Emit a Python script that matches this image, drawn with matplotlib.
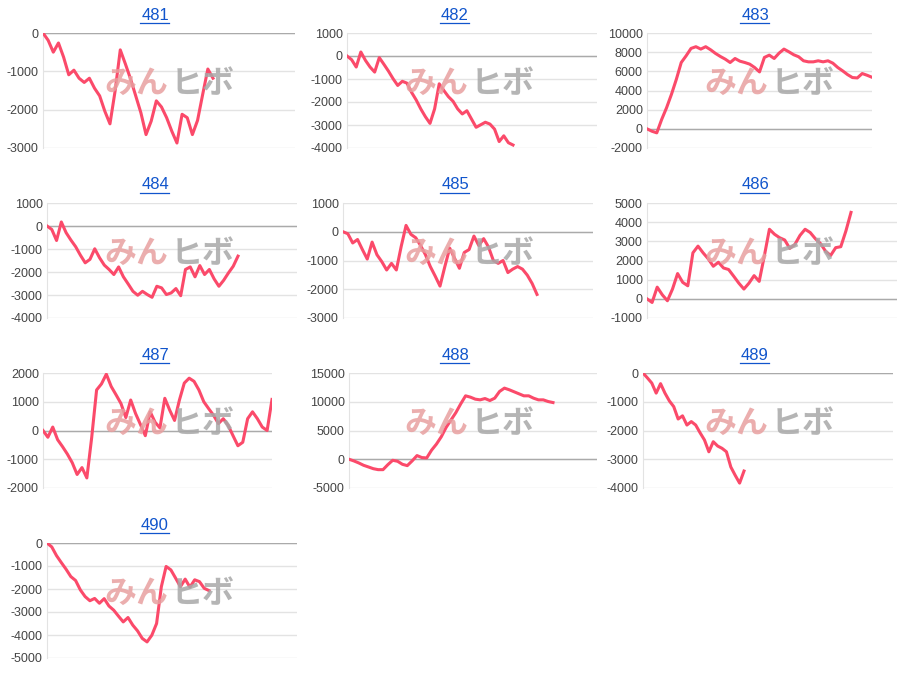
import matplotlib
matplotlib.use("Agg")
import matplotlib.pyplot as plt
from matplotlib.ticker import MultipleLocator

plt.rcParams["axes.unicode_minus"] = False
plt.rcParams["font.family"] = ["Liberation Sans", "DejaVu Sans"]

titles = ["481", "482", "483", "484", "485", "486", "487", "488", "489", "490"]

s481 = [0, -190, -500, -260, -630, -1090, -970, -1180, -1290, -1180, -1440, -1640, -2040, -2370,
        -1510, -440, -810, -1200, -1640, -2080, -2650, -2300, -1770, -1930, -2210, -2560, -2870,
        -2120, -2210, -2650, -2280, -1600, -940, -1180]
s482 = [0, -160, -480, 175, -190, -480, -700, -70, -360, -660, -990, -1280, -1100, -1180, -1580,
        -1910, -2300, -2640, -2930, -2300, -1210, -1500, -1770, -1970, -2300, -2520, -2380, -2740,
        -3100, -2990, -2880, -2960, -3180, -3720, -3470, -3770, -3870]
s483 = [0, -250, -420, 980, 2200, 3600, 5170, 6920, 7620, 8390, 8570, 8320, 8570, 8250, 7870, 7550,
        7270, 6920, 7340, 7060, 6920, 6750, 6400, 5940, 7450, 7690, 7340, 7900, 8320, 8040, 7730,
        7520, 7100, 6990, 6990, 7100, 6990, 7100, 6850, 6400, 6050, 5660, 5350, 5310, 5770, 5590, 5380]
s484 = [0, -150, -630, 175, -290, -610, -900, -1270, -1600, -1450, -990, -1380, -1700, -1890, -2110,
        -1780, -2210, -2520, -2840, -3010, -2840, -2980, -3100, -2620, -2690, -2980, -2910, -2720,
        -3030, -1890, -1780, -2210, -1720, -2110, -1890, -2300, -2620, -2360, -2040, -1750, -1310]
s485 = [0, -70, -390, -270, -620, -950, -360, -800, -1040, -1330, -1100, -1330, -510, 220, -90, -210,
        -480, -800, -1210, -1540, -1890, -1210, -570, -920, -1270, -720, -620, -150, -480, -240, -530,
        -1000, -1100, -1000, -1420, -1300, -1210, -1300, -1510, -1800, -2180]
s486 = [0, -190, 610, 210, -100, 510, 1320, 860, 680, 2400, 2750, 2400, 2090, 1700, 1910, 1610, 1530,
        1180, 820, 510, 820, 1210, 910, 2230, 3630, 3370, 3190, 3070, 2630, 2840, 3310, 3630, 3460,
        3140, 2890, 2490, 2260, 2670, 2720, 3540, 4510]
s487 = [0, -235, 120, -320, -560, -820, -1120, -1530, -1290, -1650, -235, 1410, 1620, 1960, 1530, 1240,
        940, 450, 1060, 590, 210, -180, 650, 290, 90, 1120, 710, 350, 1060, 1650, 1820, 1710, 1410,
        1000, 760, 530, 240, 410, 180, -180, -530, -410, 410, 650, 410, 120, 0, 1080]
s488 = [0, -290, -640, -1050, -1340, -1640, -1810, -1810, -940, -180, -350, -880, -1110, -290, 640,
        290, 230, 1580, 2630, 3910, 5540, 6830, 8110, 9630, 11030, 10800, 10450, 10330, 10560, 10210,
        10620, 11790, 12370, 12080, 11730, 11380, 11030, 11030, 10620, 10330, 10330, 10040, 9860]
s489 = [0, -170, -350, -700, -370, -700, -970, -1170, -1600, -1490, -1810, -1690, -1810, -2080, -2330,
        -2740, -2390, -2540, -2620, -2740, -3270, -3560, -3830, -3410]
s490 = [0, -170, -550, -850, -1140, -1460, -1630, -2040, -2330, -2510, -2410, -2620, -2420, -2740,
        -2920, -3180, -3430, -3240, -3570, -3820, -4150, -4300, -4010, -3500, -1900, -1020, -1170,
        -1530, -1900, -1570, -1920, -1600, -1680, -1970, -2070]
series = [s481, s482, s483, s484, s485, s486, s487, s488, s489, s490]

y_ranges = [(-3000, 0), (-4000, 1000), (-2000, 10000), (-4000, 1000), (-3000, 1000),
            (-1000, 5000), (-2000, 2000), (-5000, 15000), (-4000, 0), (-5000, 0)]
y_steps = [1000, 1000, 2000, 1000, 1000, 1000, 1000, 5000, 1000, 1000]

# layout in pixels: axis left / right inside each cell, and how far along the line reaches
ax_left = [43, 47, 47, 47, 43, 47, 43, 49, 43, 47]
ax_right = [295, 297, 272, 297, 293, 297, 272, 297, 293, 297]
line_end = [213, 213, 272, 238, 237, 251, 272, 253, 144, 209]

W, H = 900, 680
fig = plt.figure(figsize=(9, 6.8), dpi=100)
line_color = "#fb4a6a"

for i, (t, s) in enumerate(zip(titles, series)):
    cx = (i % 3) * 300
    cy = (i // 3) * 170
    l, r = cx + ax_left[i], cx + ax_right[i]
    top, bot = cy + 33, cy + 148
    ax = fig.add_axes([l / W, 1 - bot / H, (r - l) / W, (bot - top) / H])
    frac = (line_end[i] - ax_left[i]) / (ax_right[i] - ax_left[i])
    xmax = (len(s) - 1) / frac
    ax.plot(range(len(s)), s, color=line_color, lw=2.2, solid_joinstyle="round", zorder=3)
    ax.set_xlim(0, xmax)
    ax.set_ylim(*y_ranges[i])
    ax.yaxis.set_major_locator(MultipleLocator(y_steps[i]))
    ax.set_xticks([])
    ax.grid(axis="y", color="#e3e3e3", lw=1)
    ax.axhline(0, color="#aaaaaa", lw=1, zorder=2)
    for side in ["top", "right", "bottom"]:
        ax.spines[side].set_visible(False)
    ax.spines["left"].set_color("#e3e3e3")
    ax.tick_params(axis="y", length=0, labelsize=9, labelcolor="#444444", pad=3)
    ax.set_axisbelow(True)
    # watermark
    fig.text((cx + 136) / W, 1 - (cy + 84) / H, "みん", color="#e8a0a0", alpha=0.85,
             fontsize=23, fontweight="bold", family="Noto Sans CJK JP",
             ha="center", va="center", style="italic")
    fig.text((cx + 203) / W, 1 - (cy + 84) / H, "ヒボ", color="#a8a8a8", alpha=0.85,
             fontsize=23, fontweight="bold", family="Noto Sans CJK JP",
             ha="center", va="center", style="italic")
    # title link
    fig.text((cx + 155) / W, 1 - (cy + 15) / H, t, color="#1155cc", fontsize=12,
             ha="center", va="center")
    fig.add_artist(plt.Line2D([(cx + 140) / W, (cx + 169) / W],
                              [1 - (cy + 23) / H, 1 - (cy + 23) / H], color="#1155cc", lw=0.9))

fig.savefig("out.png", dpi=100)
